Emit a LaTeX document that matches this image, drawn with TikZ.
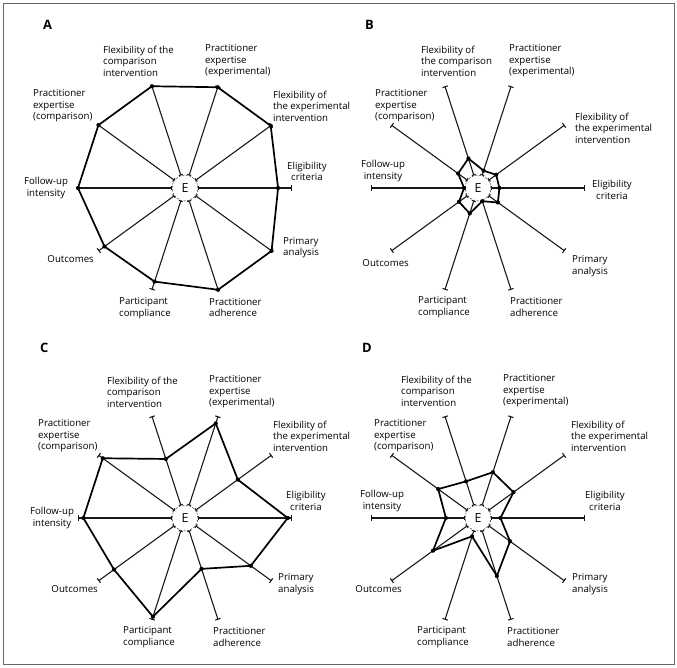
\documentclass[tikz,border=0pt]{standalone}
\usepackage{fontspec}
\setmainfont{Open Sans}
\usetikzlibrary{arrows.meta}

\tikzset{
  hub/.style={circle, draw, dash pattern=on 2bp off 1.5bp, fill=white, minimum size=26bp, inner sep=0pt,
    font=\fontsize{12.5}{14}\selectfont},
  spoke/.style={line width=1.1bp, black!90, {Bar[width=4bp]}-{Bar[width=5.5bp]}},
  poly/.style={line width=1.7bp, line join=round},
  lbl/.style={inner sep=0pt, font=\fontsize{9.7}{11.5}\selectfont, align=left, anchor=west},
  mid/.style={lbl, align=center, anchor=center},
  rgt/.style={lbl, align=right, anchor=east},
  panel/.style={inner sep=0pt, anchor=west, font=\fontsize{13}{15}\selectfont\bfseries}
}

% #1 panel name, #2 scores from eligibility counter-clockwise
\newcommand{\precis}[2]{%
  \node[hub] (#1-E) at (0,0) {E};
  \foreach \v [count=\i] in {#2} {
    \pgfmathtruncatemacro\ang{(\i-1)*36}
    \coordinate (#1-s\i) at (\ang:107);
    \coordinate (#1-p\i) at (\ang:{\v*107});
    \draw[spoke] (#1-E.\ang) -- (#1-s\i);
  }
  \draw[poly] (#1-p1) \foreach \i in {2,...,10}{ -- (#1-p\i)} -- cycle;
  \foreach \i in {1,...,10} \fill (#1-p\i) circle (2.1bp);
}

\begin{document}
\begin{tikzpicture}[x=1bp,y=1bp]
\useasboundingbox (0,0) rectangle (677,668);
\draw[black!60, line width=0.8bp] (3,4) rectangle (674,665);

\node[panel] (tA) at (43,643) {A};
\node[panel] (tB) at (365,643) {B};
\node[panel] (tC) at (40,320) {C};
\node[panel] (tD) at (362,320) {D};

% A
\begin{scope}[shift={(185,480)}]
  \precis{A}{0.87,0.99,0.99,1,1,1,0.93,0.92,1,1}
  \node[lbl] (A-flexcomp) at (-82,127) {Flexibility of the\\comparison\\intervention};
  \node[lbl] (A-peexp) at (20,127) {Practitioner\\expertise\\(experimental)};
  \node[lbl] (A-flexexp) at (88,82) {Flexibility of\\the experimental\\intervention};
  \node[mid] (A-elig) at (122,16.5) {Eligibility\\criteria};
  \node[lbl] (A-primary) at (98,-59.5) {Primary\\analysis};
  \node[lbl] (A-pracadh) at (24,-119.5) {Practitioner\\adherence};
  \node[lbl] (A-partcomp) at (-66,-120) {Participant\\compliance};
  \node[rgt] (A-outcomes) at (-91,-71) {Outcomes};
  \node[mid] (A-followup) at (-139,0) {Follow-up\\intensity};
  \node[lbl] (A-pecomp) at (-152,82) {Practitioner\\expertise\\(comparison)};
\end{scope}

% B
\begin{scope}[shift={(478,480)}]
  \precis{B}{0.2,0.21,0.17,0.29,0.23,0.13,0.22,0.25,0.13,0.23}
  \node[lbl] (B-flexcomp) at (-57,127) {Flexibility of\\the comparison\\intervention};
  \node[lbl] (B-peexp) at (31,127) {Practitioner\\expertise\\(experimental)};
  \node[lbl] (B-flexexp) at (97,60) {Flexibility of\\the experimental\\intervention};
  \node[mid] (B-elig) at (134,-2) {Eligibility\\criteria};
  \node[lbl] (B-primary) at (94,-78) {Primary\\analysis};
  \node[lbl] (B-pracadh) at (32,-119) {Practitioner\\adherence};
  \node[lbl] (B-partcomp) at (-60,-119) {Participant\\compliance};
  \node[rgt] (B-outcomes) at (-69,-75) {Outcomes};
  \node[mid] (B-followup) at (-95,17) {Follow-up\\intensity};
  \node[lbl] (B-pecomp) at (-103,82) {Practitioner\\expertise\\(comparison)};
\end{scope}

% C
\begin{scope}[shift={(185,150)}]
  \precis{C}{0.96,0.61,0.93,0.58,0.95,0.95,0.82,0.97,0.5,0.76}
  \node[lbl] (C-flexcomp) at (-78,126) {Flexibility of the\\comparison\\intervention};
  \node[lbl] (C-peexp) at (24,126) {Practitioner\\expertise\\(experimental)};
  \node[lbl] (C-flexexp) at (88,82) {Flexibility of\\the experimental\\intervention};
  \node[mid] (C-elig) at (121,17) {Eligibility\\criteria};
  \node[lbl] (C-primary) at (93,-66) {Primary\\analysis};
  \node[lbl] (C-pracadh) at (28,-119) {Practitioner\\adherence};
  \node[lbl] (C-partcomp) at (-62,-119) {Participant\\compliance};
  \node[rgt] (C-outcomes) at (-87,-71) {Outcomes};
  \node[mid] (C-followup) at (-133,0) {Follow-up\\intensity};
  \node[lbl] (C-pecomp) at (-147,82) {Practitioner\\expertise\\(comparison)};
\end{scope}

% D
\begin{scope}[shift={(478,150)}]
  \precis{D}{0.21,0.41,0.45,0.36,0.46,0.3,0.52,0.18,0.57,0.37}
  \node[lbl] (D-flexcomp) at (-77,127) {Flexibility of the\\comparison\\intervention};
  \node[lbl] (D-peexp) at (25,127) {Practitioner\\expertise\\(experimental)};
  \node[lbl] (D-flexexp) at (93,82) {Flexibility of\\the experimental\\intervention};
  \node[mid] (D-elig) at (127,17) {Eligibility\\criteria};
  \node[lbl] (D-primary) at (94,-66) {Primary\\analysis};
  \node[lbl] (D-pracadh) at (29,-119) {Practitioner\\adherence};
  \node[lbl] (D-partcomp) at (-61,-119) {Participant\\compliance};
  \node[rgt] (D-outcomes) at (-76,-71) {Outcomes};
  \node[mid] (D-followup) at (-96,17) {Follow-up\\intensity};
  \node[lbl] (D-pecomp) at (-104,82) {Practitioner\\expertise\\(comparison)};
\end{scope}
\end{tikzpicture}
\end{document}
